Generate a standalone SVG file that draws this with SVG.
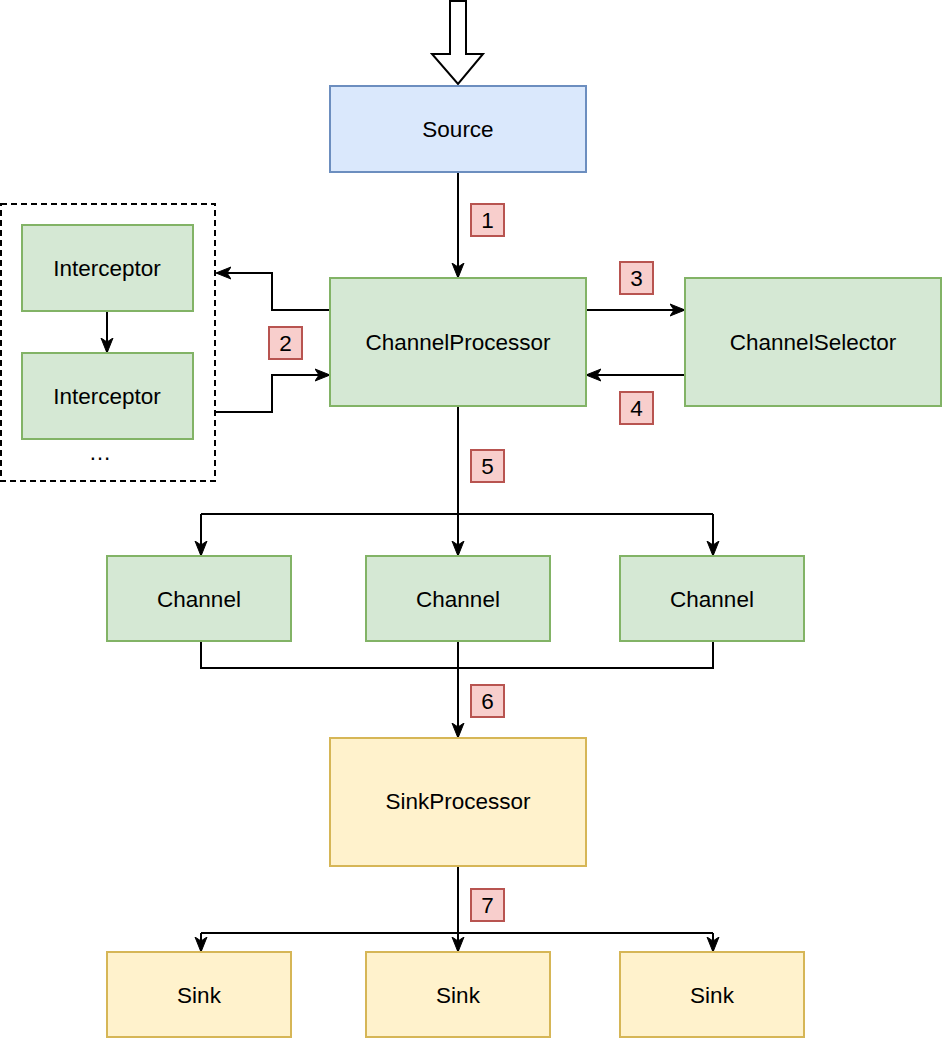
<svg xmlns="http://www.w3.org/2000/svg" width="943" height="1039" viewBox="0 0 943 1039">
<style>
text{font-family:"Liberation Sans",Arial,sans-serif;font-size:22.5px;fill:#000;text-anchor:middle;dominant-baseline:central}
.blue{fill:#dae8fc;stroke:#6c8ebf;stroke-width:2}
.green{fill:#d5e8d4;stroke:#82b366;stroke-width:2}
.yellow{fill:#fff2cc;stroke:#d6b656;stroke-width:2}
.num{fill:#f8cecc;stroke:#b85450;stroke-width:2}
.e{fill:none;stroke:#000;stroke-width:2}
.ea{fill:none;stroke:#000;stroke-width:2;marker-end:url(#arr)}
</style>
<defs>
<marker id="arr" markerUnits="userSpaceOnUse" markerWidth="16" markerHeight="14" viewBox="0 0 16 14" refX="14" refY="7" orient="auto">
<path d="M0,1 L15,7 L0,13 L4,7 Z" fill="#000" stroke="#000" stroke-width="1"/>
</marker>
</defs>
<polygon points="450,1 466,1 466,54 483,54 458,84 432,54 450,54" fill="#fff" stroke="#000" stroke-width="2"/>
<g id="connectors">
<path class="ea" d="M458,172 L458,277"/>
<path class="ea" d="M330,310 L272,310 L272,273 L217,273"/>
<path class="ea" d="M215,412 L272,412 L272,375 L329,375"/>
<path class="ea" d="M586,310 L684,310"/>
<path class="ea" d="M685,375 L587,375"/>
<path class="ea" d="M107,311 L107,352"/>
<path class="e" d="M458,406 L458,514"/>
<path class="e" d="M201,514 L713,514"/>
<path class="ea" d="M201,514 L201,555"/>
<path class="ea" d="M458,514 L458,555"/>
<path class="ea" d="M713,514 L713,555"/>
<path class="e" d="M201,641 L201,668 L713,668 L713,641"/>
<path class="ea" d="M458,641 L458,737"/>
<path class="e" d="M458,866 L458,933"/>
<path class="e" d="M201,933 L713,933"/>
<path class="ea" d="M201,933 L201,951"/>
<path class="ea" d="M458,933 L458,951"/>
<path class="ea" d="M713,933 L713,951"/>
</g>
<g id="interceptor-group">
<rect x="1" y="204" width="214" height="277" fill="none" stroke="#000" stroke-width="2" stroke-dasharray="6,4"/>
<text x="100" y="452">…</text>
</g>
<g id="source"><rect class="blue" x="330" y="86" width="256" height="86"/><text x="458" y="129">Source</text></g>
<g id="channelprocessor"><rect class="green" x="330" y="278" width="256" height="128"/><text x="458" y="342">ChannelProcessor</text></g>
<g id="channelselector"><rect class="green" x="685" y="278" width="256" height="128"/><text x="813" y="342">ChannelSelector</text></g>
<g id="interceptor1"><rect class="green" x="22" y="225" width="171" height="86"/><text x="107" y="268">Interceptor</text></g>
<g id="interceptor2"><rect class="green" x="22" y="353" width="171" height="86"/><text x="107" y="396">Interceptor</text></g>
<g id="channel1"><rect class="green" x="107" y="556" width="184" height="85"/><text x="199" y="599">Channel</text></g>
<g id="channel2"><rect class="green" x="366" y="556" width="184" height="85"/><text x="458" y="599">Channel</text></g>
<g id="channel3"><rect class="green" x="620" y="556" width="184" height="85"/><text x="712" y="599">Channel</text></g>
<g id="sinkprocessor"><rect class="yellow" x="330" y="738" width="256" height="128"/><text x="458" y="801">SinkProcessor</text></g>
<g id="sink1"><rect class="yellow" x="107" y="952" width="184" height="85"/><text x="199" y="995">Sink</text></g>
<g id="sink2"><rect class="yellow" x="366" y="952" width="184" height="85"/><text x="458" y="995">Sink</text></g>
<g id="sink3"><rect class="yellow" x="620" y="952" width="184" height="85"/><text x="712" y="995">Sink</text></g>
<g id="label1"><rect class="num" x="471" y="204" width="33" height="32"/><text x="487.5" y="220">1</text></g>
<g id="label2"><rect class="num" x="269" y="327" width="33" height="32"/><text x="285.5" y="343">2</text></g>
<g id="label3"><rect class="num" x="620" y="262" width="33" height="32"/><text x="636.5" y="278">3</text></g>
<g id="label4"><rect class="num" x="620" y="392" width="33" height="32"/><text x="636.5" y="408">4</text></g>
<g id="label5"><rect class="num" x="471" y="450" width="33" height="32"/><text x="487.5" y="466">5</text></g>
<g id="label6"><rect class="num" x="471" y="685" width="33" height="32"/><text x="487.5" y="701">6</text></g>
<g id="label7"><rect class="num" x="471" y="889" width="33" height="32"/><text x="487.5" y="905">7</text></g>
</svg>
